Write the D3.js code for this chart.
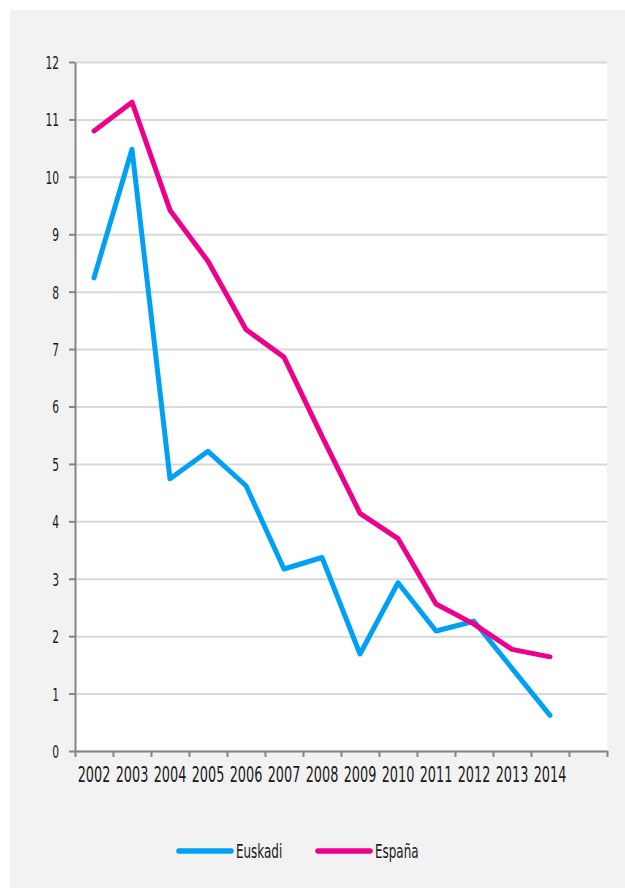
<!DOCTYPE html>
<html>
<head>
<meta charset="utf-8">
<script src="https://cdn.jsdelivr.net/npm/d3@7"></script>
<style>
  html, body { margin: 0; padding: 0; background: #ffffff; }
  #chart { width: 625px; height: 888px; }
  .lbl { font-family: "Liberation Sans Narrow", "DejaVu Sans Condensed", "Roboto", sans-serif; fill: #1a1a1a; }
</style>
</head>
<body>
<div id="chart"></div>
<script>
// Datos (tasa por año)
const years = ['2002', '2003', '2004', '2005', '2006', '2007', '2008', '2009', '2010', '2011', '2012', '2013', '2014'];
const euskadi = [8.24, 10.48, 4.74, 5.22, 4.62, 3.17, 3.37, 1.69, 2.93, 2.09, 2.26, 1.44, 0.62];
const espana = [10.8, 11.3, 9.42, 8.53, 7.34, 6.86, 5.48, 4.14, 3.70, 2.56, 2.21, 1.77, 1.64];
const yTicks = [0, 1, 2, 3, 4, 5, 6, 7, 8, 9, 10, 11, 12];
const seriesNames = ['Euskadi', 'España'];
const seriesColors = ['#00a0f5', '#ec008c'];

const W = 625, H = 888;
const margin = { top: 62, right: 18, bottom: 137, left: 75 };
const width = W - margin.left - margin.right;
const height = H - margin.top - margin.bottom;

const svgRoot = d3.select('#chart').append('svg')
  .attr('width', W)
  .attr('height', H);

// fondo gris del área del gráfico
svgRoot.append('rect')
  .attr('x', 10).attr('y', 10)
  .attr('width', W - 10).attr('height', H - 10)
  .attr('fill', '#f2f2f2');

const svg = svgRoot.append('g')
  .attr('transform', `translate(${margin.left},${margin.top})`);

// área de trazado blanca
svg.append('rect')
  .attr('width', width).attr('height', height)
  .attr('fill', '#ffffff');

// X: una banda por año y una banda vacía al final
const x = d3.scaleBand()
  .domain(years.concat(['']))
  .range([0, width])
  .padding(0);

const xEdges = d3.scaleLinear()
  .domain([0, years.length + 1])
  .range([0, width]);

const y = d3.scaleLinear()
  .domain([0, 12])
  .range([height, 0]);

// rejilla horizontal
svg.append('g')
  .attr('class', 'grid')
  .call(d3.axisLeft(y).tickValues(yTicks).tickSize(-width).tickFormat(''))
  .call(g => g.select('.domain').remove())
  .call(g => g.selectAll('line').attr('stroke', '#d9d9d9').attr('stroke-width', 2));

// eje Y
const yAxis = svg.append('g')
  .call(d3.axisLeft(y).tickValues(yTicks).tickSize(6).tickSizeOuter(0).tickFormat(d3.format('d')));
yAxis.select('.domain').attr('stroke', '#868686').attr('stroke-width', 2);
yAxis.selectAll('line').attr('stroke', '#868686').attr('stroke-width', 2);
yAxis.selectAll('text')
  .attr('class', 'lbl')
  .attr('x', null)
  .attr('dy', '0.36em')
  .attr('transform', 'translate(-16,0) scale(0.66,1)')
  .style('font-size', '18px');

// eje X: marcas en los bordes de las bandas
const xTicks = svg.append('g')
  .attr('transform', `translate(0,${height})`)
  .call(d3.axisBottom(xEdges).tickValues(d3.range(years.length + 2)).tickSize(6).tickSizeOuter(0).tickFormat(''));
xTicks.select('.domain').attr('stroke', '#868686').attr('stroke-width', 2);
xTicks.selectAll('line').attr('stroke', '#868686').attr('stroke-width', 2);

// etiquetas de años centradas en cada banda
const xLabels = svg.append('g')
  .attr('transform', `translate(0,${height})`)
  .call(d3.axisBottom(x).tickSize(0));
xLabels.select('.domain').remove();
xLabels.selectAll('text')
  .attr('class', 'lbl')
  .attr('y', null)
  .attr('dy', null)
  .attr('transform', 'translate(0,31) scale(0.68,1)')
  .style('font-size', '21px');

// líneas
const line = d3.line()
  .x((d, i) => x(years[i]) + x.bandwidth() / 2)
  .y(d => y(d));

[euskadi, espana].forEach((vals, k) => {
  svg.append('path')
    .datum(vals)
    .attr('d', line)
    .attr('fill', 'none')
    .attr('stroke', seriesColors[k])
    .attr('stroke-width', 5)
    .attr('stroke-linejoin', 'round')
    .attr('stroke-linecap', 'round');
});

// leyenda
const legend = svgRoot.append('g').attr('transform', 'translate(0,851)');
const legendX = [179, 318];
seriesNames.forEach((name, k) => {
  const g = legend.append('g').attr('transform', `translate(${legendX[k]},0)`);
  g.append('line')
    .attr('x1', 0).attr('x2', 52)
    .attr('stroke', seriesColors[k])
    .attr('stroke-width', 5.5)
    .attr('stroke-linecap', 'round');
  g.append('text')
    .attr('class', 'lbl')
    .attr('transform', 'translate(57,0) scale(0.7,1)')
    .attr('dy', '0.36em')
    .style('font-size', '19px')
    .text(name);
});
</script>
</body>
</html>
